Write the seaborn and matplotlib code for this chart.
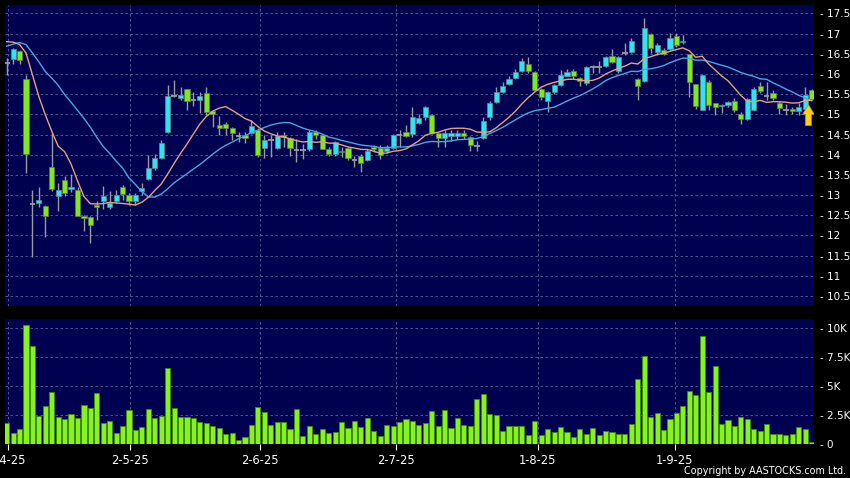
import numpy as np
import pandas as pd
import matplotlib
matplotlib.use("Agg")
import matplotlib.pyplot as plt
import seaborn as sns

# ---------------- data ----------------
opens = [16.28, 16.36, 16.57, 15.87, 12.78, 12.80, 12.74, 13.70, 12.97, 13.38,
         13.16, 13.13, 12.47, 12.45, 12.76, 12.84, 12.70, 12.86, 13.20, 13.00,
         12.86, 13.10, 13.39, 13.68, 13.93, 14.57, 15.45, 15.41, 15.62, 15.35,
         15.35, 15.52, 15.08, 14.73, 14.77, 14.67, 14.47, 14.48, 14.54, 14.62,
         14.17, 14.36, 14.17, 14.49, 14.42, 14.12, 14.12, 14.13, 14.56, 14.48,
         14.15, 14.02, 14.09, 14.17, 13.88, 13.98, 13.86, 14.19, 14.17, 14.10,
         14.17, 14.48, 14.57, 14.51, 14.78, 14.93, 14.98, 14.53, 14.41, 14.47,
         14.47, 14.55, 14.45, 14.22, 14.41, 14.93, 15.30, 15.55, 15.75, 15.90,
         16.08, 16.26, 16.04, 15.63, 15.34, 15.55, 15.73, 15.96, 16.08, 15.91,
         15.77, 16.17, 16.17, 16.20, 16.44, 16.08, 16.52, 16.54, 15.87, 15.82,
         17.00, 16.55, 16.59, 16.63, 16.95, 16.79, 16.50, 15.76, 15.12, 15.80,
         15.28, 15.20, 15.22, 15.32, 15.02, 14.88, 15.12, 15.70, 15.46, 15.52,
         15.29, 15.12, 15.14, 15.08, 15.14, 15.60]
highs = [16.39, 16.65, 16.60, 15.98, 13.13, 13.21, 12.76, 14.54, 13.29, 13.48,
         13.53, 13.20, 12.50, 12.47, 12.86, 13.23, 13.09, 13.13, 13.25, 13.06,
         13.06, 13.30, 13.99, 14.02, 14.36, 15.72, 15.85, 15.68, 15.64, 15.56,
         15.56, 15.67, 15.10, 14.96, 14.81, 14.68, 14.56, 14.56, 14.85, 14.65,
         14.48, 14.50, 14.56, 14.57, 14.44, 14.39, 14.27, 14.60, 14.60, 14.50,
         14.19, 14.35, 14.19, 14.19, 13.98, 14.02, 14.14, 14.25, 14.25, 14.23,
         14.52, 14.60, 14.73, 15.17, 15.00, 15.21, 15.00, 14.55, 14.60, 14.60,
         14.60, 14.60, 14.47, 14.33, 14.93, 15.33, 15.67, 15.79, 15.96, 16.12,
         16.40, 16.41, 16.07, 15.65, 15.57, 15.75, 16.10, 16.12, 16.12, 15.93,
         16.19, 16.23, 16.32, 16.44, 16.62, 16.44, 16.77, 16.89, 15.89, 17.39,
         17.02, 16.77, 16.65, 17.02, 17.02, 16.96, 16.50, 15.76, 15.97, 15.84,
         15.28, 15.26, 15.34, 15.40, 15.06, 15.41, 15.68, 15.80, 15.81, 15.60,
         15.33, 15.26, 15.17, 15.28, 15.69, 15.62]
lows = [15.98, 16.26, 16.26, 13.54, 11.47, 12.71, 11.96, 13.10, 12.61, 12.98,
        13.07, 12.47, 12.10, 11.80, 12.37, 12.66, 12.66, 12.80, 12.88, 12.75,
        12.75, 13.00, 13.38, 13.62, 13.90, 14.55, 15.44, 15.35, 15.10, 15.20,
        15.03, 14.98, 14.69, 14.49, 14.48, 14.36, 14.32, 14.28, 14.51, 13.94,
        13.91, 13.95, 14.15, 14.18, 13.98, 13.82, 13.90, 14.10, 14.40, 14.13,
        13.98, 13.98, 13.94, 13.86, 13.70, 13.57, 13.84, 14.07, 13.90, 14.03,
        14.15, 14.20, 14.45, 14.43, 14.75, 14.85, 14.52, 14.18, 14.18, 14.35,
        14.40, 14.38, 14.10, 14.10, 14.38, 14.85, 15.28, 15.52, 15.73, 15.88,
        16.06, 16.03, 15.57, 15.36, 15.05, 15.50, 15.70, 15.94, 15.87, 15.70,
        15.73, 16.02, 16.02, 16.18, 16.28, 16.02, 16.48, 16.52, 15.36, 15.80,
        16.52, 16.48, 16.48, 16.60, 16.67, 16.75, 15.43, 15.14, 15.10, 15.10,
        14.98, 15.04, 15.18, 15.06, 14.77, 14.86, 15.10, 15.52, 15.35, 15.35,
        15.00, 14.98, 15.00, 14.98, 15.12, 15.35]
closes = [16.28, 16.63, 16.34, 14.02, 12.78, 12.87, 12.49, 13.16, 13.13, 13.04,
          13.21, 12.49, 12.43, 12.25, 12.71, 12.97, 12.80, 13.00, 13.02, 12.86,
          13.00, 13.17, 13.68, 13.93, 14.28, 15.46, 15.45, 15.49, 15.33, 15.35,
          15.46, 15.05, 15.00, 14.67, 14.67, 14.54, 14.47, 14.42, 14.70, 14.00,
          14.36, 14.36, 14.46, 14.43, 14.17, 14.12, 14.12, 14.56, 14.49, 14.15,
          14.02, 14.31, 14.06, 13.93, 13.88, 13.80, 14.09, 14.13, 14.00, 14.17,
          14.48, 14.48, 14.47, 14.93, 14.90, 15.17, 14.55, 14.41, 14.55, 14.55,
          14.55, 14.47, 14.24, 14.22, 14.84, 15.28, 15.55, 15.71, 15.88, 16.06,
          16.33, 16.07, 15.60, 15.42, 15.55, 15.73, 15.98, 16.04, 15.94, 15.82,
          16.17, 16.17, 16.17, 16.41, 16.30, 16.41, 16.52, 16.81, 15.70, 17.14,
          16.65, 16.71, 16.50, 16.89, 16.73, 16.83, 15.79, 15.20, 15.97, 15.22,
          15.18, 15.22, 15.30, 15.10, 14.88, 15.39, 15.64, 15.57, 15.46, 15.40,
          15.15, 15.12, 15.08, 15.18, 15.47, 15.39]
volumes_k = [1.74, 0.93, 1.25, 10.29, 8.46, 2.43, 3.25, 4.43, 2.29, 2.09,
             2.55, 2.20, 3.30, 3.07, 4.38, 1.74, 1.97, 0.93, 1.48, 2.87,
             1.16, 1.42, 2.99, 2.23, 2.43, 6.55, 3.07, 2.26, 2.29, 2.20,
             1.88, 1.77, 1.51, 1.33, 0.81, 0.90, 0.29, 0.58, 1.59, 3.16,
             2.72, 1.57, 1.88, 1.91, 1.28, 2.96, 0.64, 1.54, 0.84, 1.25,
             0.93, 0.96, 1.91, 1.36, 1.97, 1.42, 2.20, 1.10, 0.67, 1.57,
             1.51, 1.91, 2.12, 1.94, 1.62, 1.82, 2.81, 1.54, 2.90, 1.33,
             2.20, 1.57, 1.51, 3.83, 4.29, 2.55, 2.49, 1.10, 1.48, 1.54,
             1.48, 0.78, 1.94, 0.75, 1.28, 0.96, 1.45, 1.04, 0.55, 1.30,
             0.84, 1.39, 0.75, 1.10, 0.96, 0.87, 0.87, 1.71, 5.62, 7.57,
             2.32, 2.61, 1.16, 2.14, 2.67, 3.25, 4.55, 4.20, 9.33, 4.43,
             6.72, 1.68, 2.03, 1.48, 2.26, 2.14, 1.30, 1.13, 1.68, 0.84,
             0.84, 0.72, 0.84, 1.42, 1.30, 0.12]
# moving-average values at the start of the window (earlier history not shown)
ma10_lead = [16.80, 16.79, 16.73, 16.52, 15.98, 15.44, 14.99, 14.58, 14.21]
ma20_lead = [16.69, 16.74, 16.78, 16.73, 16.52, 16.30, 16.06, 15.90, 15.72, 15.49,
             15.30, 15.10, 14.90, 14.68, 14.43, 14.20, 14.03, 13.84, 13.67]
date_labels = ["1-4-25", "2-5-25", "2-6-25", "2-7-25", "1-8-25", "1-9-25"]
price_ticks = [10.5, 11, 11.5, 12, 12.5, 13, 13.5, 14, 14.5, 15, 15.5, 16, 16.5, 17, 17.5]
vol_ticks = [0, 2500, 5000, 7500, 10000]
vol_tick_labels = ["0", "2.5K", "5K", "7.5K", "10K"]
copyright_text = "Copyright by AASTOCKS.com Ltd."

# ---------------- layout / style ----------------
date_tick_pos = [0.2, 19.2, 39.3, 60.5, 82.5, 103.7]
BG = "#000050"
GRID = "#5a6494"
CYAN = "#2fe3f0"
GREEN = "#80e820"
WICK = "#9c9c9c"
VOLC = "#86f21e"
MA10C = "#e8a07c"
MA20C = "#4aa6e0"

df = pd.DataFrame({"open": opens, "high": highs, "low": lows,
                   "close": closes, "volume": np.array(volumes_k) * 1000})
df["idx"] = np.arange(len(df))
ma10 = df["close"].rolling(10).mean().to_numpy()
ma10[:len(ma10_lead)] = ma10_lead
ma20 = df["close"].rolling(20).mean().to_numpy()
ma20[:len(ma20_lead)] = ma20_lead
df["ma10"] = ma10
df["ma20"] = ma20

plt.rcParams["font.family"] = ["DejaVu Sans"]
W, H = 850, 478
fig = plt.figure(figsize=(W / 100, H / 100), dpi=100, facecolor="black")
ax = fig.add_axes([5 / W, 1 - 306 / H, 809 / W, 301 / H])
axv = fig.add_axes([5 / W, 1 - 444 / H, 809 / W, 125 / H])

xlim = (-0.26, 125.36)
for a in (ax, axv):
    a.set_facecolor(BG)
    for s in a.spines.values():
        s.set_visible(False)
    a.set_xlim(*xlim)
    a.set_xticks(date_tick_pos)
    a.grid(True, color=GRID, lw=0.6, ls=(0, (3, 3)))
    a.set_axisbelow(True)
    a.yaxis.tick_right()

# ---- candles ----
idx = df["idx"].to_numpy()
o = df["open"].to_numpy(); c = df["close"].to_numpy()
up = c > o
dn = c < o
flat = ~(up | dn)
ax.vlines(idx, df["low"], df["high"], color=WICK, lw=1.0, zorder=2)
bottom = np.minimum(o, c)
height = np.abs(c - o)
ax.bar(idx[up], height[up], bottom=bottom[up], width=0.8, color=CYAN,
       edgecolor="#5c8c90", lw=0.5, zorder=3)
ax.bar(idx[dn], height[dn], bottom=bottom[dn], width=0.8, color=GREEN,
       edgecolor="#5c8040", lw=0.5, zorder=3)
ax.hlines(o[flat], idx[flat] - 0.45, idx[flat] + 0.45, color=WICK, lw=1.3, zorder=3)

sns.lineplot(data=df, x="idx", y="ma20", ax=ax, color=MA20C, lw=1.0, legend=False, zorder=4)
sns.lineplot(data=df, x="idx", y="ma10", ax=ax, color=MA10C, lw=1.0, legend=False, zorder=5)

# latest-price arrow
last = len(df) - 1
ax.arrow(last - 0.5, 14.72, 0, 0.28, width=0.9, head_width=1.8, head_length=0.24,
         length_includes_head=False, fc="#ffd21c", ec="#c98a00", lw=0.6, zorder=6)

ax.set_ylim(10.25, 17.71)
ax.set_yticks(price_ticks)
ax.set_yticklabels([f"- {v:g}" for v in price_ticks])
ax.tick_params(axis="y", colors="white", length=0, pad=4, labelsize=7.5)
ax.tick_params(axis="x", length=0, labelbottom=False)
ax.set_xlabel(""); ax.set_ylabel("")

# ---- volume ----
axv.bar(idx, df["volume"], width=0.8, color=VOLC, edgecolor="#3e8a08", lw=0.6, zorder=3)
axv.set_ylim(-40, 10800)
axv.set_yticks(vol_ticks)
axv.set_yticklabels([f"- {t}" for t in vol_tick_labels])
axv.tick_params(axis="y", colors="white", length=0, pad=4, labelsize=7.5)
axv.set_xticklabels(date_labels)
axv.tick_params(axis="x", colors="white", length=4, width=0.8, pad=3, labelsize=8.3,
                direction="out")
axv.set_xlabel(""); axv.set_ylabel("")

fig.text(846 / W, 1 - 471 / H, copyright_text, color="white", fontsize=6.9,
         ha="right", va="center")

fig.savefig("out.png", dpi=100, facecolor="black")
